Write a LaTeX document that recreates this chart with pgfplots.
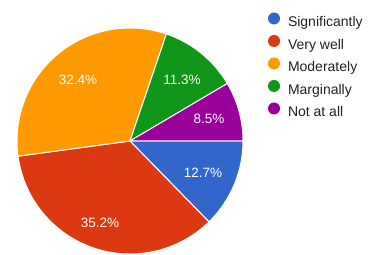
\documentclass[border=0pt]{standalone}
\usepackage{fontspec}
\setmainfont{Liberation Sans}
\usepackage{pgfplots}
\pgfplotsset{compat=1.18}
\definecolor{cSig}{HTML}{3366CC}
\definecolor{cVery}{HTML}{DC3912}
\definecolor{cMod}{HTML}{FF9900}
\definecolor{cMarg}{HTML}{109618}
\definecolor{cNot}{HTML}{990099}
\definecolor{txt}{HTML}{222222}
% slice values (percent)
\def\vA{12.7}\def\vB{35.2}\def\vC{32.4}\def\vD{11.3}\def\vE{8.5}
\pgfmathsetmacro\tot{\vA+\vB+\vC+\vD+\vE}
\pgfmathsetmacro\aA{0}
\pgfmathsetmacro\aB{-(\vA)/\tot*360}
\pgfmathsetmacro\aC{-(\vA+\vB)/\tot*360}
\pgfmathsetmacro\aD{-(\vA+\vB+\vC)/\tot*360}
\pgfmathsetmacro\aE{-(\vA+\vB+\vC+\vD)/\tot*360}
\pgfmathsetmacro\aF{-360}
\def\cx{130}\def\cy{114}\def\R{113}
\begin{document}
\begin{tikzpicture}
\begin{axis}[
  width=369bp, height=255bp, scale only axis,
  xmin=0, xmax=369, ymin=0, ymax=255,
  hide axis, clip=false,
  legend style={at={(0.7263,0.951)}, anchor=north west, draw=none, fill=none,
    inner sep=0pt, outer sep=0pt, row sep=5bp, column sep=8bp,
    font=\fontsize{14bp}{16bp}\selectfont\color{txt},
    nodes={inner sep=0pt, text height=10bp, text depth=3bp}},
  legend cell align=left,
  legend image code/.code={\fill[#1, draw=none] (6bp,5bp) circle (6bp);},
]
\path (axis cs:0,0) rectangle (axis cs:369,255);
\addplot[fill=cSig, draw=white, line width=1bp, domain=\aB:\aA, samples=40, variable=\t]
  ({\cx+\R*cos(\t)},{\cy+\R*sin(\t)}) -- (axis cs:\cx,\cy) -- cycle;
\addlegendentry{Significantly}
\addplot[fill=cVery, draw=white, line width=1bp, domain=\aC:\aB, samples=80, variable=\t]
  ({\cx+\R*cos(\t)},{\cy+\R*sin(\t)}) -- (axis cs:\cx,\cy) -- cycle;
\addlegendentry{Very well}
\addplot[fill=cMod, draw=white, line width=1bp, domain=\aD:\aC, samples=80, variable=\t]
  ({\cx+\R*cos(\t)},{\cy+\R*sin(\t)}) -- (axis cs:\cx,\cy) -- cycle;
\addlegendentry{Moderately}
\addplot[fill=cMarg, draw=white, line width=1bp, domain=\aE:\aD, samples=40, variable=\t]
  ({\cx+\R*cos(\t)},{\cy+\R*sin(\t)}) -- (axis cs:\cx,\cy) -- cycle;
\addlegendentry{Marginally}
\addplot[fill=cNot, draw=white, line width=1bp, domain=\aF:\aE, samples=40, variable=\t]
  ({\cx+\R*cos(\t)},{\cy+\R*sin(\t)}) -- (axis cs:\cx,\cy) -- cycle;
\addlegendentry{Not at all}
\begin{scope}[every node/.style={text=white, font=\fontsize{13.5bp}{15bp}\selectfont, inner sep=0pt}]
\node at (axis cs:203,82) {12.7\%};
\node at (axis cs:100,32) {35.2\%};
\node at (axis cs:78,175) {32.4\%};
\node at (axis cs:182,175) {11.3\%};
\node at (axis cs:209,136) {8.5\%};
\end{scope}
\end{axis}
\end{tikzpicture}
\end{document}
